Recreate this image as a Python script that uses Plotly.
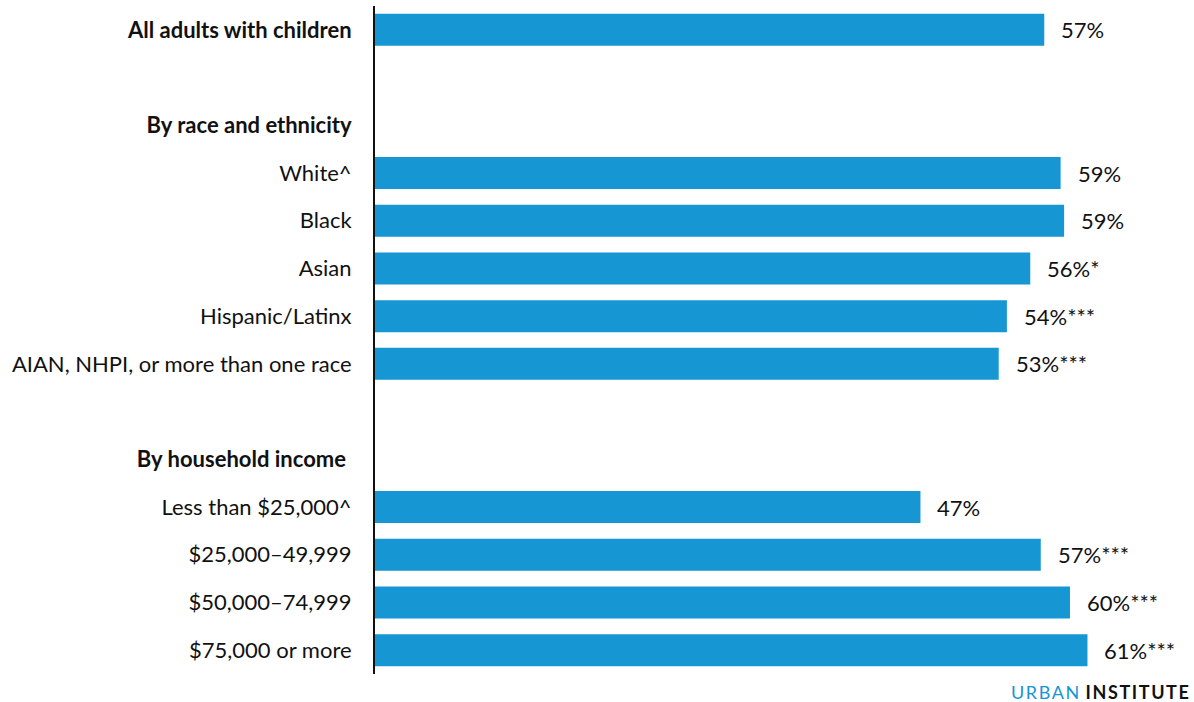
import plotly.graph_objects as go

categories = [
    "All adults with children", "blank1", "By race and ethnicity",
    "White^", "Black", "Asian", "Hispanic/Latinx", "AIAN, NHPI, or more than one race",
    "blank2", "By household income",
    "Less than $25,000^", "$25,000–49,999", "$50,000–74,999", "$75,000 or more",
]
tick_labels = [
    "<b>All adults with children</b>", "", "<b>By race and ethnicity</b>",
    "White^", "Black", "Asian", "Hispanic/Latinx", "AIAN, NHPI, or more than one race",
    "", "<b>By household income</b> ",
    "Less than $25,000^", "$25,000–49,999", "$50,000–74,999", "$75,000 or more",
]
values = [57.3, None, None, 58.7, 59.0, 56.1, 54.1, 53.4, None, None, 46.7, 57.0, 59.5, 61.0]
value_labels = ["57%", "", "", "59%", "59%", "56%*", "54%***", "53%***", "", "",
                "47%", "57%***", "60%***", "61%***"]

BLUE = "#1696d2"
FONT = "Lato, 'Open Sans', sans-serif"

fig = go.Figure()
fig.add_trace(go.Bar(
    x=values, y=categories, orientation="h",
    marker=dict(color=BLUE, line=dict(width=0)),
    hoverinfo="skip",
))

for cat, v, lab in zip(categories, values, value_labels):
    if v is None:
        continue
    fig.add_annotation(x=v, y=cat, text=lab, showarrow=False, xanchor="left",
                       xshift=15, font=dict(family=FONT, size=22, color="#111111"))

fig.add_annotation(
    x=1, y=0, xref="paper", yref="paper", xanchor="right", yanchor="top",
    xshift=-2, yshift=-5, showarrow=False,
    text=(f"<span style='color:{BLUE};letter-spacing:1.6px'>URBAN</span> "
          "<span style='letter-spacing:1.6px'><b>INSTITUTE</b></span>"),
    font=dict(family=FONT, size=18, color="#111111"),
)

fig.update_layout(
    width=1194, height=702,
    margin=dict(l=375, r=0, t=6, b=28),
    paper_bgcolor="white", plot_bgcolor="white",
    bargap=0.33, showlegend=False,
    font=dict(family=FONT, size=22, color="#111111"),
    xaxis=dict(range=[0, 70.12], visible=False, fixedrange=True),
    yaxis=dict(
        categoryorder="array", categoryarray=categories,
        tickmode="array", tickvals=categories, ticktext=tick_labels,
        autorange="reversed",
        showline=True, linecolor="#111111", linewidth=2,
        showgrid=False, zeroline=False, ticks="",
        ticklabelstandoff=17,
        tickfont=dict(family=FONT, size=22, color="#111111"),
    ),
)

fig.write_html("out.html")
